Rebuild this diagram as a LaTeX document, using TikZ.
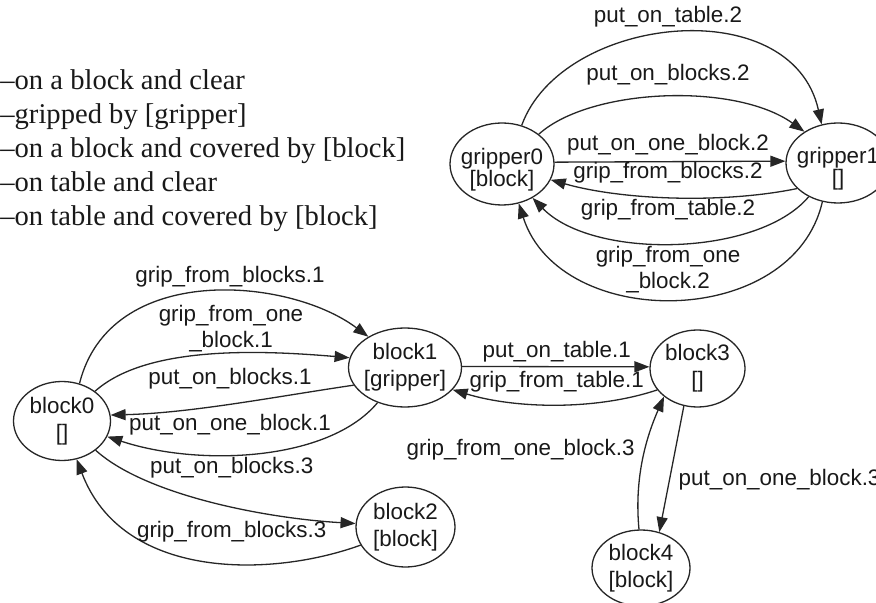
\documentclass[tikz,border=0pt]{standalone}
\usepackage{fontspec}
\setmainfont{Liberation Serif}
\newfontfamily\labelfont{Liberation Sans}
\usetikzlibrary{arrows.meta,shapes.geometric}
\begin{document}
\begin{tikzpicture}[x=0.5pt,y=-0.5pt,
  st/.style n args={2}{ellipse, draw=black!85, line width=0.65pt,
    minimum width=#1pt, minimum height=#2pt, inner sep=0pt},
  ntop/.style={font=\labelfont\fontsize{11.2}{10.9}\selectfont, align=center,
    inner sep=0pt, text=black!90, yshift=-3pt},
  nbot/.style={font=\labelfont\fontsize{11.2}{13.3}\selectfont, align=center,
    inner sep=0pt, text=black!90},
  elab/.style={font=\labelfont\fontsize{11.2}{13.1}\selectfont, align=center,
    inner sep=0pt, text=black!90},
  legend/.style={font=\fontsize{14.3}{17}\selectfont, anchor=base west,
    inner sep=0pt, text=black!90},
  tr/.style={draw=black!85, line width=0.65pt,
    -{Triangle[length=7.5pt,width=5.5pt]}}
]
\fill[white] (0,0) rectangle (876,603);
\useasboundingbox (0,0) rectangle (876,603);

% legend of the states
\node[legend] (l1) at (0,89.3)  {–on a block and clear};
\node[legend] (l2) at (0,123.3) {–gripped by [gripper]};
\node[legend] (l3) at (0,157.7) {–on a block and covered by [block]};
\node[legend] (l4) at (0,191.7) {–on table and clear};
\node[legend] (l5) at (0,226)   {–on table and covered by [block]};

% gripper states
\node[st={52}{41}, label={[ntop]center:{gripper0\\{[block]}}}] (g0) at (502,164) {};
\node[st={52}{40}, label={[ntop]center:{gripper1\\{[]}}}] (g1) at (838,163) {};

% block states
\node[st={48.5}{39.5}, label={[nbot]center:{block0\\{[]}}}] (b0) at (62,421) {};
\node[st={56.5}{39.5}, label={[nbot]center:{block1\\{[gripper]}}}] (b1) at (405,367.5) {};
\node[st={49.5}{40}, label={[nbot]center:{block2\\{[block]}}}] (b2) at (405.5,527) {};
\node[st={47.5}{38.5}, label={[nbot]center:{block3\\{[]}}}] (b3) at (697.5,368.5) {};
\node[st={49}{38}, label={[nbot]center:{block4\\{[block]}}}] (b4) at (641,568) {};

% gripper transitions
\draw[tr] (g0.63) .. controls (561.7,15) and (791.7,-10) .. (g1.113);
\draw[tr] (g0.39) .. controls (590,88) and (735,82) .. (g1.137);
\draw[tr] (g0.2) -- (g1.178);
\draw[tr] (g1.212) .. controls (721.7,204) and (621.7,200) .. (g0.-18);
\draw[tr] (g1.229) .. controls (758,257) and (593,260) .. (g0.-48);
\draw[tr] (g1.248) .. controls (793,330) and (560,332) .. (g0.-67);

\node[elab] (t1) at (668,17)  {put\_on\_table.2};
\node[elab] (t2) at (668,75)  {put\_on\_blocks.2};
\node[elab] (t3) at (668,145) {put\_on\_one\_block.2};
\node[elab] (t4) at (668,173) {grip\_from\_blocks.2};
\node[elab] (t5) at (668,210) {grip\_from\_table.2};
\node[elab] (t6) at (668,270) {grip\_from\_one\\\_block.2};

% block transitions
\draw[tr] (b0.65) .. controls (110,261.7) and (288.3,276.7) .. (b1.140);
\draw[tr] (b0.42) .. controls (146.7,345) and (261.7,350.3) .. (b1.170);
\draw[tr] (b1.199) .. controls (273.3,397) and (191.7,413) .. (b0.7);
\draw[tr] (b1.232) .. controls (328.3,461.7) and (198.3,466.7) .. (b0.-19);
\draw[tr] (b0.-41) .. controls (145,495) and (265,518.3) .. (b2.176);
\draw[tr] (b2.202) .. controls (270,578) and (122.3,580) .. (b0.-69);
\draw[tr] (b1.1) -- (b3.178);
\draw[tr] (b3.208) .. controls (595,410.7) and (515,408.7) .. (b1.-25);
\draw[tr] (b4.93) .. controls (634.3,480) and (645,440) .. (b3.220);
\draw[tr] (b3.250) -- (b4.63);

\node[elab] (s1) at (230,276.7) {grip\_from\_blocks.1};
\node[elab] (s2) at (231,328.3) {grip\_from\_one\\\_block.1};
\node[elab] (s3) at (230,378.3) {put\_on\_blocks.1};
\node[elab] (s4) at (230,425)   {put\_on\_one\_block.1};
\node[elab] (s5) at (231.7,467.5) {put\_on\_blocks.3};
\node[elab] (s6) at (231.7,531.7) {grip\_from\_blocks.3};
\node[elab] (s7) at (556.7,351.7) {put\_on\_table.1};
\node[elab] (s8) at (556.7,381.7) {grip\_from\_table.1};
\node[elab, anchor=east] (s9) at (635,450) {grip\_from\_one\_block.3};
\node[elab, anchor=west] (s10) at (678.3,480) {put\_on\_one\_block.3};
\end{tikzpicture}
\end{document}
